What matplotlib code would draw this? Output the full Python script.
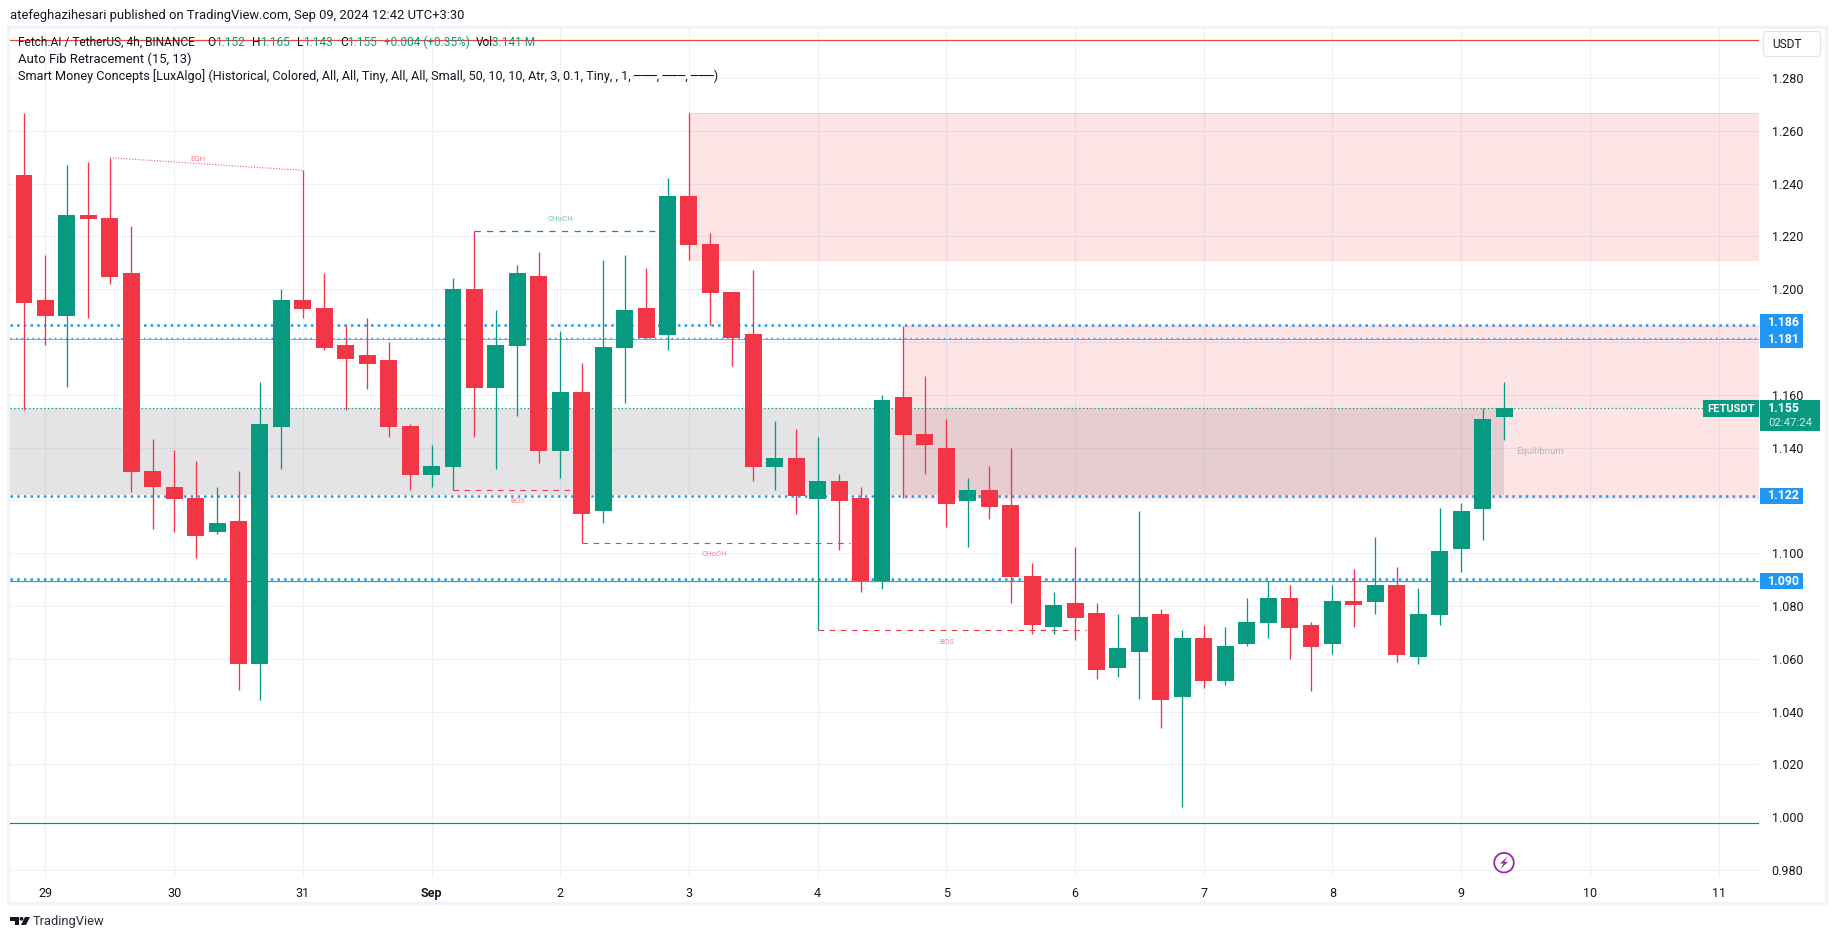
import matplotlib
matplotlib.use("Agg")
import matplotlib.pyplot as plt
from matplotlib.patches import Rectangle, FancyBboxPatch, Polygon, Circle
from matplotlib.ticker import FixedLocator, FuncFormatter

plt.rcParams['font.family'] = ['Roboto', 'DejaVu Sans']

# candles
opens = [1.2432, 1.1960, 1.1898, 1.2281, 1.2268, 1.2062, 1.1313, 1.1252, 1.1210, 1.1079,
         1.1121, 1.0579, 1.1478, 1.1960, 1.1929, 1.1789, 1.1752, 1.1733, 1.1483, 1.1298,
         1.1327, 1.2000, 1.1627, 1.1785, 1.2049, 1.1389, 1.1611, 1.1158, 1.1778, 1.1929,
         1.1827, 1.2352, 1.2171, 1.1989, 1.1830, 1.1327, 1.1361, 1.1207, 1.1272, 1.1210,
         1.0895, 1.1593, 1.1452, 1.1400, 1.1199, 1.1241, 1.1181, 1.0912, 1.0719, 1.0810,
         1.0772, 1.0566, 1.0627, 1.0770, 1.0457, 1.0680, 1.0517, 1.0657, 1.0736, 1.0831,
         1.0729, 1.0657, 1.0820, 1.0816, 1.0880, 1.0608, 1.0767, 1.1016, 1.1168, 1.1516]
closes = [1.1947, 1.1898, 1.2281, 1.2265, 1.2046, 1.1309, 1.1249, 1.1207, 1.1067, 1.1113,
          1.0579, 1.1491, 1.1960, 1.1924, 1.1778, 1.1736, 1.1718, 1.1478, 1.1298, 1.1332,
          1.2000, 1.1627, 1.1789, 1.2062, 1.1389, 1.1611, 1.1147, 1.1781, 1.1921, 1.1815,
          1.2352, 1.2167, 1.1986, 1.1815, 1.1327, 1.1361, 1.1218, 1.1272, 1.1199, 1.0895,
          1.1582, 1.1449, 1.1408, 1.1188, 1.1241, 1.1176, 1.0908, 1.0727, 1.0803, 1.0756,
          1.0557, 1.0642, 1.0759, 1.0445, 1.0680, 1.0517, 1.0649, 1.0740, 1.0831, 1.0718,
          1.0646, 1.0820, 1.0805, 1.0880, 1.0615, 1.0770, 1.1009, 1.1160, 1.1508, 1.1550]
highs = [1.2669, 1.2129, 1.2469, 1.2481, 1.2498, 1.2239, 1.1431, 1.1392, 1.1350, 1.1252,
         1.1313, 1.1650, 1.2000, 1.2450, 1.2062, 1.1863, 1.1890, 1.1801, 1.1491, 1.1411,
         1.2042, 1.2219, 1.1921, 1.2091, 1.2140, 1.1843, 1.1721, 1.2111, 1.2129, 1.2080,
         1.2420, 1.2669, 1.2213, 1.1990, 1.2072, 1.1502, 1.1471, 1.1441, 1.1301, 1.1252,
         1.1600, 1.1861, 1.1671, 1.1509, 1.1283, 1.1332, 1.1400, 1.0962, 1.0852, 1.1022,
         1.0810, 1.0770, 1.1160, 1.0789, 1.0710, 1.0729, 1.0721, 1.0831, 1.0894, 1.0880,
         1.0740, 1.0880, 1.0941, 1.1062, 1.0948, 1.0869, 1.1172, 1.1190, 1.1549, 1.1648]
lows = [1.1542, 1.1789, 1.1630, 1.1890, 1.2020, 1.1230, 1.1090, 1.1082, 1.0980, 1.1071,
        1.0482, 1.0443, 1.1320, 1.1890, 1.1770, 1.1542, 1.1622, 1.1441, 1.1241, 1.1252,
        1.1239, 1.1441, 1.1320, 1.1520, 1.1343, 1.1283, 1.1039, 1.1113, 1.1570, 1.1813,
        1.1770, 1.2112, 1.1863, 1.1710, 1.1272, 1.1241, 1.1150, 1.0710, 1.1011, 1.0852,
        1.0863, 1.1210, 1.1301, 1.1101, 1.1022, 1.1131, 1.0810, 1.0693, 1.0693, 1.0670,
        1.0523, 1.0530, 1.0449, 1.0339, 1.0040, 1.0491, 1.0502, 1.0649, 1.0680, 1.0600,
        1.0479, 1.0619, 1.0721, 1.0770, 1.0589, 1.0581, 1.0729, 1.0929, 1.1050, 1.1429]

price_ticks = [0.98, 1.00, 1.02, 1.04, 1.06, 1.08, 1.10, 1.12, 1.14, 1.16, 1.18, 1.20, 1.22, 1.24, 1.26, 1.28]
hidden_ticks = [1.12, 1.18]
day_labels = ['29', '30', '31', 'Sep', '2', '3', '4', '5', '6', '7', '8', '9', '10', '11']
day_bars = [1, 7, 13, 19, 25, 31, 37, 43, 49, 55, 61, 67, 73, 79]

RED = '#f23645'
GREEN = '#089981'
BLUE = '#2196f3'
GRID = '#eef0f3'

W, H = 1835, 939
# pixel frame of the price pane
L, R, T, B = 9.8, 1759, 27, 877
BAR_PX, BAR0_PX = 21.45, 24
PX_PER_PRICE = 52.8 / 0.02

fig = plt.figure(figsize=(W / 100, H / 100), dpi=100, facecolor='white')
ax = fig.add_axes([L / W, 1 - B / H, (R - L) / W, (B - T) / H])
ax.set_xlim((L - BAR0_PX) / BAR_PX, (R - BAR0_PX) / BAR_PX)
ax.set_ylim(1.28 - (B - 78) / PX_PER_PRICE, 1.28 + (78 - T) / PX_PER_PRICE)
for s in ax.spines.values():
    s.set_visible(False)

ax.yaxis.tick_right()
ax.yaxis.set_major_locator(FixedLocator([p for p in price_ticks if p not in hidden_ticks]))
ax.yaxis.set_major_formatter(FuncFormatter(lambda v, pos: f'{v:.3f}'))
ax.tick_params(axis='y', length=0, pad=9, labelsize=9.0, labelcolor='#131722')
ax.set_xticks(day_bars)
ax.set_xticklabels(day_labels, fontsize=9.0, color='#131722')
ax.get_xticklabels()[3].set_fontweight('bold')
ax.tick_params(axis='x', length=0, pad=7)
# the two hidden ones still have a grid line behind the price labels
for p in hidden_ticks:
    ax.axhline(p, color=GRID, lw=0.8, zorder=0)
ax.grid(True, color=GRID, lw=0.8, zorder=0)
ax.set_axisbelow(True)

# zones
last = len(closes) - 1
xmax = ax.get_xlim()[1]
xmin = ax.get_xlim()[0]
ax.fill_between([xmin, last], 1.122, 1.155, color='#787b86', alpha=0.2, lw=0, zorder=1)
ax.fill_between([31, xmax], 1.2112, 1.2669, color='#f23645', alpha=0.13, lw=0, zorder=1)
ax.fill_between([41, xmax], 1.1210, 1.1861, color='#f23645', alpha=0.13, lw=0, zorder=1)
for x0, lo, hi in [(31, 1.2112, 1.2669), (41, 1.1210, 1.1861)]:
    ax.hlines([lo, hi], x0, xmax, color='#f23645', alpha=0.15, lw=0.8, zorder=1)

# levels
ax.axhline(1.2943, color='#f44336', lw=0.85, zorder=2)
ax.axhline(0.9977, color='#0b8a76', lw=0.85, zorder=2)
ax.axhline(1.1810, color='#6fbf73', lw=0.7, zorder=2)
ax.axhline(1.0895, color='#4caf50', lw=0.9, zorder=2)
ax.axhline(1.1866, color=BLUE, lw=1.8, ls=(0, (1, 1.67)), zorder=2)
ax.axhline(1.1814, color=BLUE, lw=1.0, ls=(0, (1, 3.0)), zorder=2)
ax.axhline(1.1218, color=BLUE, lw=1.8, ls=(0, (1, 1.67)), zorder=2)
ax.axhline(1.0901, color=BLUE, lw=1.8, ls=(0, (1, 1.67)), zorder=2)
ax.axhline(1.1550, color=GREEN, lw=0.9, ls=(0, (1, 2)), zorder=2)

# market structure
ax.plot([4, 13], [1.2498, 1.2450], color=RED, lw=0.8, ls=(0, (1, 1.5)), alpha=0.8, zorder=2)
ax.plot([21, 29.4], [1.2219, 1.2219], color=GREEN, lw=0.9, ls=(0, (5, 5)), zorder=2)
ax.plot([20, 25.5], [1.1239, 1.1239], color=RED, lw=0.8, ls=(0, (5, 5)), zorder=2)
ax.plot([26, 38.5], [1.1039, 1.1039], color=RED, lw=0.8, ls=(0, (5, 5)), zorder=2)
ax.plot([37, 49.5], [1.0710, 1.0710], color=RED, lw=0.8, ls=(0, (5, 5)), zorder=2)
for x, y, s, c in [(8.1, 1.2498, 'EQH', RED), (25.0, 1.2267, 'CHoCH', GREEN), (23.0, 1.1197, 'BOS', RED),
                   (32.2, 1.0997, 'CHoCH', RED), (43.0, 1.0665, 'BOS', RED)]:
    ax.text(x, y, s, color=c, fontsize=5.6, alpha=0.6, ha='center', va='center', zorder=2)
ax.text(70.7, 1.1385, 'Equilibrium', color='#b2b5be', fontsize=6.8, ha='center', va='center', zorder=2)

# candles
xs = list(range(len(closes)))
cols = [GREEN if c >= o else RED for o, c in zip(opens, closes)]
ax.vlines(xs, lows, highs, colors=cols, lw=0.95, zorder=3)
ax.bar(xs, [abs(c - o) for o, c in zip(opens, closes)], bottom=[min(o, c) for o, c in zip(opens, closes)],
       width=0.79, color=cols, lw=0, zorder=4)

# overlay in pixel coordinates for the frame, legend and price tags
deco = fig.add_axes([0, 0, 1, 1], facecolor='none')
deco.set_xlim(0, W)
deco.set_ylim(H, 0)
deco.axis('off')


def py(price):
    return 78 + (1.28 - price) * PX_PER_PRICE


deco.add_patch(Rectangle((8.3, 26.5), 1818, 876, fill=False, ec='#f0f3fa', lw=2.2))

deco.text(10, 15, 'atefeghazihesari published on TradingView.com, Sep 09, 2024 12:42 UTC+3:30',
          fontsize=9.4, color='#131722', va='center')
legend_dark = '#131722'
legend_teal = '#089981'
segs = [(18, 'Fetch.AI / TetherUS, 4h, BINANCE', legend_dark), (207.5, 'O', legend_dark), (215.5, '1.152', legend_teal),
        (252, 'H', legend_dark), (260, '1.165', legend_teal), (296.5, 'L', legend_dark), (303.5, '1.143', legend_teal),
        (340, 'C', legend_dark), (347.5, '1.155', legend_teal), (383.5, '+0.004 (+0.35%)', legend_teal),
        (476, 'Vol', legend_dark), (492, '3.141 M', legend_teal)]
for x, s, c in segs:
    deco.text(x, 42, s, fontsize=8.6, color=c, va='center')
deco.text(18, 59, 'Auto Fib Retracement (15, 13)', fontsize=9.4, color=legend_dark, va='center')
deco.text(18, 76, 'Smart Money Concepts [LuxAlgo] (Historical, Colored, All, All, Tiny, All, All, Small, 50, 10, 10, '
          'Atr, 3, 0.1, Tiny, , 1, ───, ───, ───)', fontsize=9.1, color=legend_dark, va='center')

# currency button
deco.add_patch(FancyBboxPatch((1765, 33), 54, 22, boxstyle='round,pad=1.5,rounding_size=4', fc='white', ec='#e0e3eb', lw=0.8))
deco.text(1772, 44.5, 'USDT', fontsize=8.6, color='#131722', va='center')

# price tags
deco.add_patch(Rectangle((1760, 314), 43, 34, fc=BLUE, ec='none'))
deco.text(1768, 323, '1.186', color='white', fontsize=8.8, fontweight='bold', va='center')
deco.text(1768, 339.5, '1.181', color='white', fontsize=8.8, fontweight='bold', va='center')
for p, s in [(1.1218, '1.122'), (1.0895, '1.090')]:
    deco.add_patch(Rectangle((1760, py(p) - 8), 43, 16, fc=BLUE, ec='none'))
    deco.text(1768, py(p) + 0.3, s, color='white', fontsize=8.8, fontweight='bold', va='center')
deco.add_patch(Rectangle((1760, 400), 60, 31, fc=GREEN, ec='none'))
deco.add_patch(Rectangle((1703, 400), 56, 17, fc=GREEN, ec='none'))
deco.text(1707, 408.5, 'FETUSDT', color='white', fontsize=8.0, fontweight='bold', va='center')
deco.text(1768, 408.5, '1.155', color='white', fontsize=8.8, fontweight='bold', va='center')
deco.text(1768, 423, '02:47:24', color='#cdebe5', fontsize=8.2, va='center')

# lightning badge
deco.add_patch(Circle((1504, 862.7), 9.8, fc='white', ec='#9c27b0', lw=1.3))
deco.add_patch(Polygon([(1507.5, 856.5), (1500, 863.5), (1503.6, 863.5), (1500.5, 869), (1508, 861.8), (1504.4, 861.8)],
                       closed=True, fc='#9c27b0', ec='none'))

# TradingView logo
deco.add_patch(Polygon([(10, 917), (19, 917), (19, 925), (14.5, 925), (14.5, 921), (10, 921)], closed=True, fc='#131722', ec='none'))
deco.add_patch(Circle((21.5, 918.8), 1.9, fc='#131722', ec='none'))
deco.add_patch(Polygon([(25, 917), (30, 917), (26, 925), (21, 925)], closed=True, fc='#131722', ec='none'))
deco.text(33, 921.5, 'TradingView', fontsize=9.3, color='#2a2e39', va='center')

fig.savefig('out.png', dpi=100)
